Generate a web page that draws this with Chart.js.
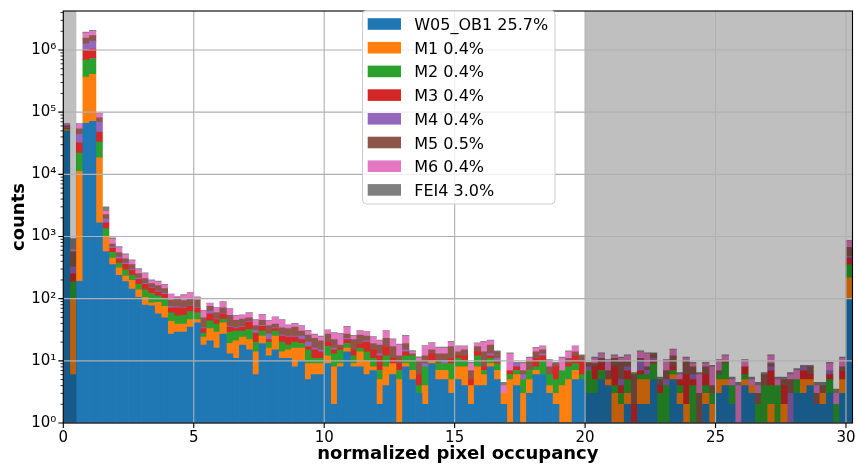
<!DOCTYPE html>
<html>
<head>
<meta charset="utf-8">
<script src="https://cdn.jsdelivr.net/npm/chart.js@4.4.1/dist/chart.umd.min.js"></script>
<style>
  html, body { margin: 0; padding: 0; background: #fff; }
  #wrap { width: 857px; height: 470px; }
</style>
</head>
<body>
<div id="wrap"><canvas id="myChart" width="857" height="470"></canvas></div>
<script>
// histogram bins: 0.25 wide, from 0 to 30.25
const binWidth = 0.25;
const nBins = 121;

// counts per bin
const w05 = [50000, 6, 190, 66000, 71000, 1660, 573, 352, 237, 188, 142, 105, 79, 77, 57, 49, 27, 29, 29, 35, 41, 18, 21, 16, 27, 13, 11, 18, 15, 6, 19, 12, 15, 11, 11, 8, 10, 5, 6, 6,
  9, 2, 8, 14, 8, 8, 6, 7, 2, 4, 6, 0, 8, 5, 3, 2, 9, 5, 5, 3,
  5, 4, 2, 4, 4, 8, 5, 2, 0, 4, 0, 3, 6, 6, 3, 2, 0, 0, 5, 5,
  3, 3, 5, 4, 0, 0, 2, 0, 2, 2, 5, 0, 0, 5, 2, 0, 0, 0, 2, 0,
  3, 4, 2, 0, 4, 3, 0, 0, 0, 0, 0, 0, 3, 3, 4, 2, 2, 3, 0, 3, 99];
const m1 = [2000, 95, 11000, 300000, 337000, 16800, 440, 98, 75, 43, 55, 34, 26, 8, 30, 26, 16, 10, 10, 11, 5, 6, 12, 13, 14, 6, 10, 6, 7, 8, 6, 4, 10, 3, 4, 8, 6, 4, 3, 3,
  3, 6, 1, 2, 1, 6, 4, 1, 3, 4, 3, 5, 1, 2, 0, 2, 1, 2, 2, 2,
  3, 4, 2, 4, 2, 1, 2, 1, 5, 2, 3, 2, 1, 0, 1, 1, 4, 5, 2, 0,
  0, 0, 0, 1, 3, 2, 1, 0, 3, 3, 0, 0, 0, 1, 1, 2, 0, 0, 1, 2,
  2, 1, 0, 0, 1, 1, 0, 0, 2, 0, 2, 0, 0, 2, 1, 0, 1, 0, 0, 2, 118];
const m2 = [1500, 85, 10800, 324000, 322000, 14500, 325, 102, 63, 59, 40, 31, 34, 36, 24, 22, 16, 14, 15, 16, 13, 4, 11, 10, 6, 10, 9, 6, 10, 6, 5, 4, 5, 6, 3, 4, 3, 6, 2, 2,
  5, 5, 6, 3, 3, 2, 4, 3, 2, 4, 0, 2, 3, 5, 1, 4, 0, 2, 2, 4,
  3, 2, 0, 4, 1, 2, 2, 0, 1, 1, 2, 2, 1, 4, 2, 2, 3, 3, 2, 1,
  4, 2, 2, 0, 1, 1, 2, 0, 1, 1, 4, 3, 4, 1, 1, 0, 4, 0, 1, 1,
  1, 4, 2, 0, 1, 0, 2, 4, 2, 4, 0, 0, 2, 0, 0, 0, 0, 2, 2, 0, 135];
const m3 = [2000, 65, 10000, 300000, 300000, 15000, 326, 95, 63, 67, 50, 34, 31, 25, 18, 20, 12, 18, 16, 13, 11, 5, 13, 7, 10, 6, 3, 5, 10, 8, 6, 2, 3, 5, 6, 4, 3, 2, 4, 3,
  3, 2, 1, 3, 3, 3, 6, 4, 5, 5, 2, 2, 2, 0, 2, 0, 3, 0, 0, 2,
  1, 2, 1, 2, 1, 1, 1, 0, 1, 1, 0, 0, 3, 2, 0, 3, 0, 1, 3, 4,
  0, 3, 2, 0, 4, 1, 2, 2, 1, 0, 1, 1, 0, 1, 1, 4, 1, 0, 2, 0,
  0, 0, 0, 0, 2, 0, 0, 0, 3, 0, 2, 0, 0, 2, 1, 0, 0, 1, 0, 2, 98];
const m4 = [1500, 73, 12000, 270000, 360000, 21000, 261, 32, 28, 18, 13, 11, 5, 4, 3, 6, 4, 3, 1, 1, 1, 1, 6, 1, 1, 1, 1, 1, 1, 3, 1, 5, 1, 1, 1, 1, 3, 3, 1, 1,
  0, 1, 0, 1, 0, 0, 1, 0, 1, 0, 0, 0, 1, 0, 0, 1, 0, 0, 1, 0,
  0, 0, 0, 0, 0, 1, 1, 0, 0, 1, 1, 0, 0, 1, 0, 0, 0, 0, 0, 0,
  1, 0, 0, 0, 0, 1, 1, 0, 3, 1, 1, 0, 1, 0, 0, 0, 1, 0, 0, 0,
  0, 0, 0, 0, 0, 0, 0, 0, 1, 0, 0, 3, 0, 1, 0, 0, 0, 1, 0, 0, 28];
const m5 = [4000, 250, 10000, 290000, 310000, 12000, 329, 78, 86, 63, 52, 39, 35, 25, 30, 22, 20, 28, 22, 22, 24, 15, 12, 13, 13, 18, 11, 11, 6, 6, 8, 10, 5, 8, 8, 10, 5, 6, 7, 6,
  7, 6, 2, 4, 7, 7, 4, 4, 5, 6, 6, 3, 4, 1, 4, 3, 2, 4, 3, 6,
  2, 3, 2, 3, 6, 5, 3, 0, 0, 0, 1, 3, 3, 2, 2, 1, 0, 2, 2, 2,
  1, 1, 2, 2, 3, 5, 2, 4, 1, 1, 2, 1, 2, 4, 0, 4, 2, 3, 2, 1,
  1, 1, 0, 0, 0, 0, 1, 2, 1, 0, 1, 2, 0, 0, 2, 1, 1, 0, 0, 1, 192];
const m6 = [3000, 34, 10000, 320000, 300000, 14000, 288, 140, 110, 69, 56, 40, 44, 18, 22, 20, 23, 5, 19, 27, 10, 15, 9, 11, 17, 14, 8, 7, 10, 8, 10, 7, 11, 11, 4, 4, 6, 4, 3, 3,
  4, 6, 9, 8, 3, 4, 4, 5, 3, 7, 5, 6, 6, 1, 1, 5, 4, 3, 3, 3,
  3, 2, 2, 2, 6, 3, 0, 1, 6, 0, 2, 1, 2, 2, 2, 0, 4, 3, 3, 0,
  0, 2, 2, 3, 1, 1, 2, 0, 3, 5, 0, 0, 3, 3, 1, 1, 1, 3, 1, 4,
  3, 2, 1, 4, 2, 1, 1, 0, 3, 1, 0, 1, 2, 0, 0, 1, 0, 2, 1, 3, 185];
const fei4 = [1500, 320, 1500, 80000, 70000, 2000, 472, 56, 26, 19, 15, 11, 7, 7, 8, 5, 1, 1, 4, 2, 2, 1, 1, 1, 2, 1, 1, 1, 1, 1, 1, 1, 1, 1, 1, 1, 1, 1, 1, 1,
  0.6, 0.6, 0.6, 1, 0.6, 0.6, 0.6, 0.6, 0.6, 0.6, 0.6, 0.6, 0.6, 0.6, 0.6, 0.6, 0.6, 0.6, 0.6, 0.6,
  0.5, 0.5, 0.5, 0.5, 0.5, 0.5, 0.5, 0.5, 0.5, 0.5, 0.5, 0.5, 0.5, 0.5, 0.5, 0.5, 0.5, 0.5, 0.5, 0.5,
  0.5, 0.5, 0.5, 0.5, 0.5, 0.5, 0.5, 0.5, 0.5, 0.5, 0.5, 0.5, 0.5, 0.5, 0.5, 0.5, 0.5, 0.5, 0.5, 0.5,
  0.5, 0.5, 0.5, 0.5, 0.5, 0.5, 0.5, 0.5, 0.5, 0.5, 0.5, 0.5, 0.5, 0.5, 0.5, 0.5, 0.5, 0.5, 0.5, 0.5, 15];

const seriesLabels = ["W05_OB1 25.7%", "M1 0.4%", "M2 0.4%", "M3 0.4%", "M4 0.4%", "M5 0.5%", "M6 0.4%", "FEI4 3.0%"];
const seriesData = [w05, m1, m2, m3, m4, m5, m6, fei4];
const colors = ["#1f77b4", "#ff7f0e", "#2ca02c", "#d62728", "#9467bd", "#8c564b", "#e377c2", "#7f7f7f"];

const xTicks = [0, 5, 10, 15, 20, 25, 30];
const yDecades = [1, 10, 100, 1000, 10000, 100000, 1000000];
const maskedRanges = [[0, 0.5], [20, 30.25]];

const sup = { 0: "\u2070", 1: "\u00b9", 2: "\u00b2", 3: "\u00b3", 4: "\u2074", 5: "\u2075", 6: "\u2076" };

const binCenters = [];
for (let i = 0; i < nBins; i++) binCenters.push(binWidth * i + binWidth / 2);

Chart.defaults.font.family = "'DejaVu Sans', sans-serif";
Chart.defaults.color = "#000";

// shading, grid, frame and ticks go on top of the bars
const overlay = {
  id: "overlay",
  afterDatasetsDraw(chart) {
    const { ctx, chartArea: a } = chart;
    const x = chart.scales.x, y = chart.scales.y;
    ctx.save();
    ctx.fillStyle = "rgba(0,0,0,0.25)";
    maskedRanges.forEach(([lo, hi]) => {
      const x0 = x.getPixelForValue(lo);
      const x1 = Math.min(x.getPixelForValue(hi), a.right);
      ctx.fillRect(x0, a.top, x1 - x0, a.bottom - a.top);
    });

    ctx.strokeStyle = "#b0b0b0";
    ctx.lineWidth = 1.1;
    ctx.beginPath();
    xTicks.forEach((v) => {
      const px = x.getPixelForValue(v);
      ctx.moveTo(px, a.top);
      ctx.lineTo(px, a.bottom);
    });
    yDecades.forEach((v) => {
      const py = y.getPixelForValue(v);
      ctx.moveTo(a.left, py);
      ctx.lineTo(a.right, py);
    });
    ctx.stroke();

    ctx.strokeStyle = "#000";
    ctx.lineWidth = 1.1;
    ctx.strokeRect(a.left, a.top, a.right - a.left, a.bottom - a.top);

    ctx.beginPath();
    xTicks.forEach((v) => {
      const px = x.getPixelForValue(v);
      ctx.moveTo(px, a.bottom);
      ctx.lineTo(px, a.bottom + 5);
    });
    yDecades.forEach((v) => {
      const py = y.getPixelForValue(v);
      ctx.moveTo(a.left, py);
      ctx.lineTo(a.left - 5, py);
    });
    ctx.stroke();

    ctx.lineWidth = 0.8;
    ctx.beginPath();
    yDecades.forEach((d) => {
      for (let m = 2; m <= 9; m++) {
        const v = m * d;
        if (v > y.max) break;
        const py = y.getPixelForValue(v);
        ctx.moveTo(a.left, py);
        ctx.lineTo(a.left - 2.8, py);
      }
    });
    ctx.stroke();
    ctx.restore();
  },
  afterDraw(chart) {
    const ctx = chart.ctx;
    ctx.save();
    const bx = 362.5, by = 10.5, bw = 192.5, bh = 193.5;
    ctx.beginPath();
    if (ctx.roundRect) ctx.roundRect(bx, by, bw, bh, 4);
    else ctx.rect(bx, by, bw, bh);
    ctx.fillStyle = "rgba(255,255,255,0.8)";
    ctx.fill();
    ctx.strokeStyle = "#cccccc";
    ctx.lineWidth = 1;
    ctx.stroke();
    ctx.font = "16px 'DejaVu Sans'";
    ctx.textBaseline = "alphabetic";
    ctx.textAlign = "left";
    seriesLabels.forEach((lab, i) => {
      const cy = 24 + i * 23.7;
      ctx.fillStyle = colors[i];
      ctx.fillRect(367.7, cy - 5.8, 33.3, 11.6);
      ctx.fillStyle = "#000";
      ctx.fillText(lab, 414.3, cy + 6);
    });
    ctx.restore();
  },
};

const data = {
  datasets: seriesData.map((arr, i) => ({
    label: seriesLabels[i],
    data: arr.map((v, j) => ({ x: binCenters[j], y: v })),
    backgroundColor: colors[i],
    borderWidth: 0,
    barPercentage: 1,
    categoryPercentage: 1,
  })),
};

const config = {
  type: "bar",
  data: data,
  options: {
    responsive: false,
    animation: false,
    events: [],
    layout: { padding: { top: 3.3, right: 4.5, left: 0, bottom: 0 } },
    plugins: { legend: { display: false }, tooltip: { enabled: false } },
    scales: {
      x: {
        type: "linear",
        stacked: true,
        offset: false,
        min: 0,
        max: 30.25,
        grid: { offset: false, drawOnChartArea: false, drawTicks: true, tickLength: 5, color: "rgba(0,0,0,0)" },
        border: { display: false },
        afterBuildTicks: (s) => { s.ticks = xTicks.map((v) => ({ value: v })); },
        afterFit: (s) => { s.height = 47; },
        ticks: { autoSkip: false, maxRotation: 0, padding: 1, font: { size: 15 }, color: "#000" },
        title: { display: true, text: "normalized pixel occupancy", font: { size: 18, weight: "bold" }, color: "#000", padding: { top: 0, bottom: 4.4 } },
      },
      y: {
        type: "logarithmic",
        stacked: true,
        min: 1,
        max: 4.24e6,
        grid: { drawOnChartArea: false, drawTicks: true, tickLength: 5, color: "rgba(0,0,0,0)" },
        border: { display: false },
        afterBuildTicks: (s) => { s.ticks = yDecades.map((v) => ({ value: v })); },
        afterFit: (s) => { s.width = 63.3; },
        ticks: {
          autoSkip: false,
          padding: 2,
          font: { size: 15 },
          color: "#000",
          callback: (v) => "10" + sup[Math.round(Math.log10(v))],
        },
        title: { display: true, text: "counts", font: { size: 18, weight: "bold" }, color: "#000", padding: { top: 8.2, bottom: 0 } },
      },
    },
  },
  plugins: [overlay],
};

const myChart = new Chart(document.getElementById("myChart"), config);
</script>
</body>
</html>
